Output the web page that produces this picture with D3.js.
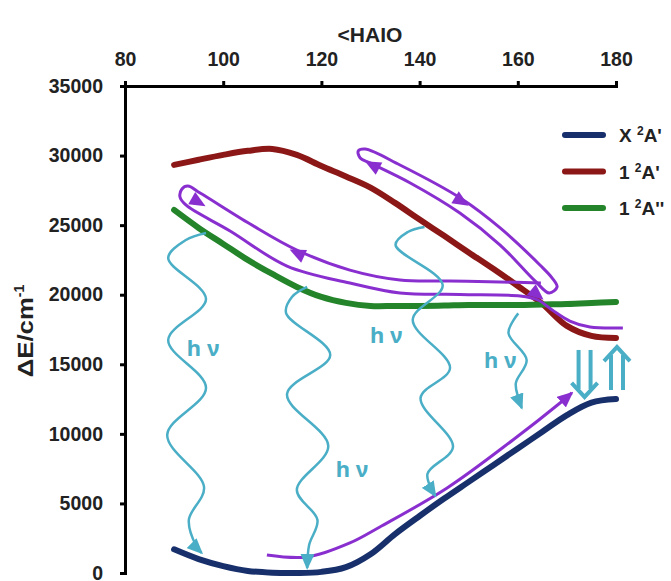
<!DOCTYPE html>
<html>
<head>
<meta charset="utf-8">
<script src="https://cdn.jsdelivr.net/npm/d3@7"></script>
<style>
  body { margin: 0; background: #fff; }
  text { font-family: "Liberation Sans", Arial, sans-serif; font-weight: bold; }
</style>
</head>
<body>
<script>
// potential curves, angle <HAIO in degrees, energy in cm-1
var angles = [90, 95, 100, 105, 110, 115, 120, 125, 130, 135, 140, 145, 150, 155, 160, 165, 170, 175, 180];
var stateX2A1 = [1700, 1000, 500, 150, 20, 0, 80, 420, 1350, 2800, 4100, 5350, 6550, 7750, 8950, 10150, 11350, 12250, 12500];
var state12A1 = [29330, 29700, 30050, 30340, 30480, 30050, 29250, 28500, 27700, 26600, 25400, 24230, 23040, 21860, 20630, 19340, 17760, 17040, 16890];
var state12A2 = [26090, 24800, 23650, 22500, 21490, 20560, 19840, 19410, 19190, 19190, 19190, 19220, 19260, 19260, 19260, 19300, 19330, 19400, 19480];
var stateNames = ["X", "1", "1"];
var stateSyms = ["A'", "A'", "A''"];
var xTicks = [80, 100, 120, 140, 160, 180];
var yTicks = [0, 5000, 10000, 15000, 20000, 25000, 30000, 35000];

// purple wavepacket paths [angle, energy]
var loopUpper = [[127.5,30330],[128.9,30470],[136.0,29320],[148.6,26880],[156.4,24800],[164.5,22140],[167.0,21200],
                 [168.0,20560],[166.4,20120],[163.5,20990],[156.4,23570],[148.2,25870],[138.1,28030],[129.9,29470],[127.9,29830]];
var loopLower = [[164.7,20840],[156.4,20920],[146.2,20990],[136.0,21060],[125.8,21770],[115.0,23210],[105.5,25080],[95.3,27310],
                 [92.8,27810],[91.6,27600],[91.2,27020],[92.4,26450],[101.4,24580],[113.0,22060],[125.8,20840],[136.0,20120],
                 [148.2,20020],[160.5,19910],[164.1,19620],[167.0,18900],[170.6,18110],[174.7,17680],[181.4,17610]];
var groundPath = [[108.9,1290],[117.1,1150],[125.8,2160],[131.9,3310],[145.6,6110],[159.0,9560],[168.6,12220],[171.0,12940]];
// purple arrowheads [angle, energy, screen direction in deg]
var purpleHeads = [[148.6,26700,32],[130.3,29330,208],[164.0,20000,40],[95.0,26650,30],[115.0,23000,205]];

// emission waves hv [angle, energy]
var wave1 = [[96.5,24440],[92.4,23930],[88.8,22640],[96.5,19690],[88.8,16750],[96.5,13300],[88.6,9920],[96.1,6180],[93.0,3810],[94.5,1940],[95.6,1440]];
var wave2 = [[117.1,20560],[114.0,19840],[112.8,18690],[121.8,15670],[113.0,12850],[121.4,9130],[115.0,5970],[119.2,3810],[117.5,2010],[117.1,360]];
var wave3 = [[141.0,24870],[137.6,24510],[135.1,23580],[144.7,20700],[138.6,18190],[146.2,14730],[140.2,12580],[146.8,9060],[141.6,7120],[143.2,5540]];
var wave4 = [[160.1,18660],[158.1,17250],[161.8,15310],[159.6,13650],[160.1,12600],[160.8,11860]];
var hvLabels = [[95.9,16170],[126.2,7470],[133.2,17100],[156.4,15310]];
// vertical transitions at linearity [angle, top energy, bottom energy, direction]
var vertArrows = [[173.6,16030,12650,"down"],[180.2,16240,13150,"up"]];

var colors = ["#172f6b", "#8c1717", "#23842a"];
var purple = "#8a2fcf", cyan = "#4aaec6";

var W = 671, H = 581;
var svg = d3.select("body").append("svg").attr("width", W).attr("height", H);

var x = d3.scaleLinear().domain([80, 180]).range([125, 616]);
var y = d3.scaleLinear().domain([0, 35000]).range([573, 86]);

// axes
var xAxis = svg.append("g").attr("transform", "translate(0," + y(35000) + ")")
  .call(d3.axisTop(x).tickValues(xTicks).tickSize(5).tickSizeOuter(5).tickPadding(15));
var yAxis = svg.append("g").attr("transform", "translate(" + x(80) + ",0)")
  .call(d3.axisLeft(y).tickValues(yTicks).tickSize(5).tickSizeOuter(5).tickPadding(17).tickFormat(d3.format("d")));
[xAxis, yAxis].forEach(function(a) {
  a.selectAll("path, line").attr("stroke", "#000").attr("stroke-width", 3);
  a.selectAll("text").attr("fill", "#222").style("font-size", "19.5px").style("font-weight", "bold")
    .style("font-family", "'Liberation Sans', Arial, sans-serif");
});

svg.append("text").attr("x", 370).attr("y", 42).attr("text-anchor", "middle")
  .style("font-size", "21px").attr("fill", "#222").text("<HAIO");

var yt = svg.append("text").attr("transform", "translate(33,331) rotate(-90)").attr("text-anchor", "middle")
  .style("font-size", "22px").attr("fill", "#222");
yt.append("tspan").attr("textLength", 80).attr("lengthAdjust", "spacingAndGlyphs").text("ΔE/cm");
yt.append("tspan").attr("dy", -9).style("font-size", "14px").text("-1");

// potential curves
var curve = d3.line().x(function(d) { return x(d[0]); }).y(function(d) { return y(d[1]); }).curve(d3.curveCatmullRom);
[stateX2A1, state12A1, state12A2].forEach(function(s, i) {
  svg.append("path").datum(angles.map(function(a, j) { return [a, s[j]]; }))
    .attr("d", curve).attr("fill", "none").attr("stroke", colors[i]).attr("stroke-width", 6)
    .attr("stroke-linecap", "round");
});

// markers
var defs = svg.append("defs");
function marker(id, col) {
  defs.append("marker").attr("id", id).attr("markerUnits", "userSpaceOnUse")
    .attr("viewBox", "0 -7 16 14").attr("refX", 14).attr("refY", 0)
    .attr("markerWidth", 16).attr("markerHeight", 14).attr("orient", "auto")
    .append("path").attr("d", "M0,-7L16,0L0,7Z").attr("fill", col);
}
marker("cyanHead", cyan);
marker("purpleHead", purple);

var smooth = d3.line().x(function(d) { return x(d[0]); }).y(function(d) { return y(d[1]); }).curve(d3.curveCatmullRom.alpha(0.5));
var loopLine = d3.line().x(function(d) { return x(d[0]); }).y(function(d) { return y(d[1]); }).curve(d3.curveCatmullRomClosed.alpha(0.5));

// purple paths
svg.append("path").datum(loopUpper).attr("d", loopLine).attr("fill", "none").attr("stroke", purple).attr("stroke-width", 3);
svg.append("path").datum(loopLower).attr("d", smooth).attr("fill", "none").attr("stroke", purple).attr("stroke-width", 3);
svg.append("path").datum(groundPath).attr("d", smooth).attr("fill", "none").attr("stroke", purple).attr("stroke-width", 3)
  .attr("marker-end", "url(#purpleHead)");
svg.selectAll(".ph").data(purpleHeads).enter().append("path")
  .attr("transform", function(d) { return "translate(" + x(d[0]) + "," + y(d[1]) + ") rotate(" + d[2] + ")"; })
  .attr("d", "M8,0L-8,-7L-8,7Z").attr("fill", purple);

// hv waves
[wave1, wave2, wave3, wave4].forEach(function(w) {
  svg.append("path").datum(w).attr("d", smooth).attr("fill", "none").attr("stroke", cyan).attr("stroke-width", 2.5)
    .attr("marker-end", "url(#cyanHead)");
});
svg.selectAll(".hv").data(hvLabels).enter().append("text")
  .attr("x", function(d) { return x(d[0]); }).attr("y", function(d) { return y(d[1]) + 8; })
  .attr("text-anchor", "middle").attr("fill", cyan).style("font-size", "22px")
  .style("font-family", "'Noto Sans', 'DejaVu Sans', sans-serif").text("h ν");

// double arrows
vertArrows.forEach(function(a) {
  var cx = x(a[0]), t = y(a[1]), b = y(a[2]);
  var down = a[3] == "down";
  var tip = down ? b : t, base = down ? t : b, s = down ? 1 : -1;
  var g = svg.append("g").attr("fill", "none").attr("stroke", cyan).attr("stroke-width", 4);
  g.append("path").attr("d", "M" + (cx - 6) + "," + base + "V" + (tip - s * 8));
  g.append("path").attr("d", "M" + (cx + 6) + "," + base + "V" + (tip - s * 8));
  g.append("path").attr("d", "M" + (cx - 13) + "," + (tip - s * 14) + "L" + cx + "," + tip + "L" + (cx + 13) + "," + (tip - s * 14));
});

// legend
var leg = svg.selectAll(".leg").data(colors).enter().append("g")
  .attr("transform", function(d, i) { return "translate(565," + (135 + i * 36.5) + ")"; });
leg.append("line").attr("x1", 0).attr("x2", 38).attr("stroke", function(d) { return d; })
  .attr("stroke-width", 6).attr("stroke-linecap", "round");
var lt = leg.append("text").attr("x", 54).attr("y", 7).style("font-size", "19px").attr("fill", "#222");
lt.append("tspan").text(function(d, i) { return stateNames[i] + " "; });
lt.append("tspan").attr("dy", -7).style("font-size", "12px").text("2");
lt.append("tspan").attr("dy", 7).text(function(d, i) { return stateSyms[i]; });
</script>
</body>
</html>
